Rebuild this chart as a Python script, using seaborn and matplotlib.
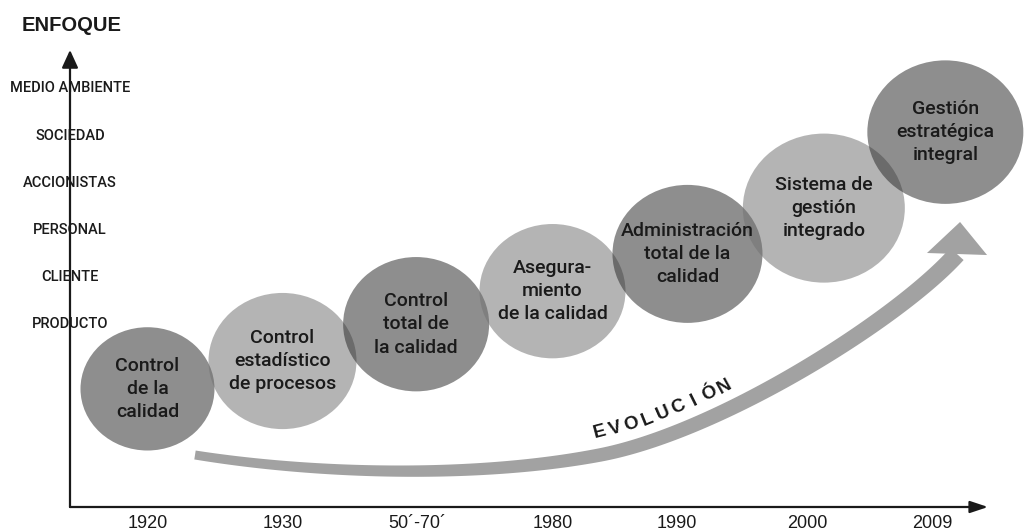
import numpy as np
import pandas as pd
import matplotlib
matplotlib.use('Agg')
import matplotlib.pyplot as plt
from matplotlib.path import Path
from matplotlib.transforms import Affine2D
import seaborn as sns

# Etapas de la evolución de la calidad (posición en la línea de tiempo, nivel de enfoque)
etapas = ['Control\nde la\ncalidad',
          'Control\nestadístico\nde procesos',
          'Control\ntotal de\nla calidad',
          'Asegura-\nmiento\nde la calidad',
          'Administración\ntotal de la\ncalidad',
          'Sistema de\ngestión\nintegrado',
          'Gestión\nestratégica\nintegral']
posicion = [0.0, 1.0, 1.99, 3.0, 4.0, 5.01, 5.91]
enfoque = [-0.40, 0.19, 0.97, 1.67, 2.46, 3.43, 5.04]
tono = ['oscuro', 'claro', 'oscuro', 'claro', 'oscuro', 'claro', 'oscuro']

# Eje horizontal (años)
anios = ['1920', '1930', '50´-70´', '1980', '1990', '2000', '2009']
anio_pos = [0.0, 1.0, 2.0, 3.0, 3.92, 4.89, 5.81]

# Eje vertical (enfoque)
niveles = ['PRODUCTO', 'CLIENTE', 'PERSONAL', 'ACCIONISTAS', 'SOCIEDAD', 'MEDIO AMBIENTE']
nivel_pos = [1, 2, 3, 4, 5, 6]

df = pd.DataFrame({'etapa': etapas, 'x': posicion, 'y': enfoque, 'tono': tono})

sns.set_theme(style='white')
plt.rcParams['font.family'] = ['Roboto', 'DejaVu Sans']
tinta = '#1a1a1a'

fig = plt.figure(figsize=(10.24, 5.32), dpi=100)
ax = fig.add_axes([70 / 1024, 25 / 532, 918 / 1024, 457 / 532])
ax.set_xlim(-0.574, 6.226)
ax.set_ylim(-2.903, 6.78)

# burbujas (elipses algo más anchas que altas)
elipse = Affine2D().scale(1, 0.92).transform_path(Path.unit_circle())
anchos = [134, 148, 146, 146, 150, 162, 156]  # ancho en px
sns.scatterplot(data=df, x='x', y='y', hue='tono',
                palette={'oscuro': '#2a2a2a', 'claro': '#727272'},
                size='etapa', sizes={e: (a * 0.72) ** 2 for e, a in zip(etapas, anchos)},
                marker=elipse, alpha=0.53, edgecolor='none', linewidth=0,
                legend=False, ax=ax, zorder=2)
ax.collections[0].set_clip_on(False)

for e, x, y in zip(etapas, posicion, enfoque):
    ax.text(x, y, e, ha='center', va='center', fontsize=14, linespacing=1.38,
            fontweight='medium', color=tinta, zorder=4)

# ejes con flechas
sns.despine(ax=ax, left=True, bottom=True)
ax.annotate('', xy=(0, 1), xytext=(0, 0), xycoords='axes fraction',
            arrowprops=dict(arrowstyle='-|>,head_length=0.72,head_width=0.33',
                            lw=1.6, color=tinta, shrinkA=0, shrinkB=0, mutation_scale=15))
ax.annotate('', xy=(1, 0), xytext=(0, 0), xycoords='axes fraction',
            arrowprops=dict(arrowstyle='-|>,head_length=0.72,head_width=0.24',
                            lw=1.6, color=tinta, shrinkA=0, shrinkB=0, mutation_scale=15))
ax.annotate('ENFOQUE', xy=(0, 1), xycoords='axes fraction', xytext=(1, 17.5),
            textcoords='offset points', ha='center', va='center', fontsize=14.5,
            fontweight='bold', family='Liberation Sans', color=tinta)

ax.set_xticks(anio_pos, anios)
ax.set_yticks(nivel_pos, niveles)
ax.tick_params(axis='x', length=0, pad=6, labelsize=13, labelcolor=tinta,
               labelfontfamily='Liberation Sans')
ax.tick_params(axis='y', length=0, pad=0, labelsize=10.5, labelcolor=tinta)
plt.setp(ax.get_yticklabels(), ha='center', fontweight='medium')
ax.set_xlabel('')
ax.set_ylabel('')


# flecha curva de la evolución
def bezier(p, n=80):
    t = np.linspace(0, 1, n)[:, None]
    p = np.asarray(p, dtype=float)
    return ((1 - t) ** 3 * p[0] + 3 * t * (1 - t) ** 2 * p[1]
            + 3 * t ** 2 * (1 - t) * p[2] + t ** 3 * p[3])


tramo_a = [(0.352, -1.801), (1.278, -2.225), (2.463, -2.288), (3.352, -1.801)]
tramo_b = [(3.352, -1.801), (4.241, -1.314), (5.565, 1.081), (5.996, 2.458)]
cabeza = [(5.774, 2.479), (6.019, 3.136), (6.219, 2.436)]
gris_flecha = '#a2a2a2'

centro = np.vstack([bezier(tramo_a), bezier(tramo_b)[1:]])
disp = ax.transData.transform(centro)
tang = np.gradient(disp, axis=0)
tang /= np.linalg.norm(tang, axis=1)[:, None]
normal = np.column_stack([-tang[:, 1], tang[:, 0]])
arco = np.concatenate([[0], np.cumsum(np.linalg.norm(np.diff(disp, axis=0), axis=1))])
grosor = 9 + 9 * arco / arco[-1]
borde = np.vstack([disp + normal * grosor[:, None] / 2,
                   (disp - normal * grosor[:, None] / 2)[::-1]])
borde = ax.transData.inverted().transform(borde)
ax.fill(borde[:, 0], borde[:, 1], color=gris_flecha, lw=0, zorder=1, clip_on=False)
cx, cy = zip(*cabeza)
ax.fill(cx, cy, color=gris_flecha, lw=0, zorder=1, clip_on=False)

# texto EVOLUCIÓN siguiendo la curva
s0 = arco[np.argmin(np.abs(centro[:, 0] - 3.40))]
for k, letra in enumerate('EVOLUCIÓN'):
    s = s0 + k * 17.3
    px = np.interp(s, arco, disp[:, 0])
    py = np.interp(s, arco, disp[:, 1])
    tx = np.interp(s, arco, tang[:, 0])
    ty = np.interp(s, arco, tang[:, 1])
    nrm = np.hypot(tx, ty)
    tx, ty = tx / nrm, ty / nrm
    pos = ax.transData.inverted().transform((px - ty * 22, py + tx * 22))
    ax.text(pos[0], pos[1], letra, ha='center', va='center',
            rotation=np.degrees(np.arctan2(ty, tx)) + 3,
            rotation_mode='anchor', fontsize=13.5, fontweight='bold', family='Liberation Sans',
            color=tinta, zorder=4)

fig.savefig('out.png', dpi=100, facecolor='white')
